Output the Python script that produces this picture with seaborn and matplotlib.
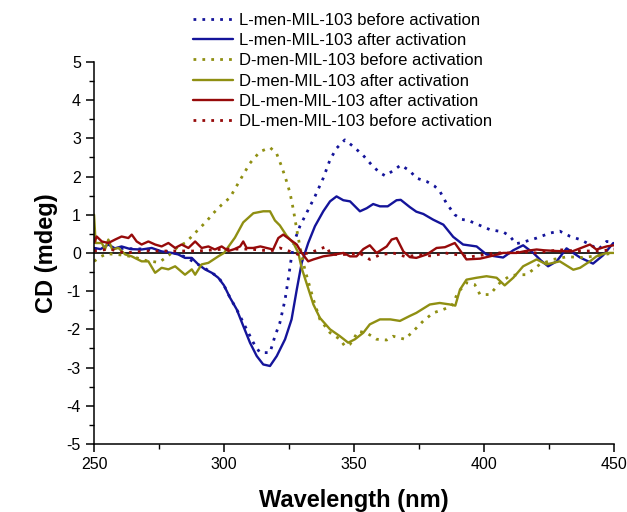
import numpy as np
import pandas as pd
import matplotlib
matplotlib.use("Agg")
import matplotlib.pyplot as plt
import seaborn as sns
from matplotlib.ticker import MultipleLocator

# CD spectra (wavelength in nm, CD in mdeg)
l_before_wl = [250, 260, 270, 280, 285, 290, 295, 298, 300, 302.3, 304.9, 308.7, 311.3, 313.8, 317.7,
               319.6, 321.5, 323.5, 324.7, 326, 327.3, 329.2, 332.4, 335, 338.2, 340.8, 343.3, 346.5,
               349.7, 353.6, 357.4, 360, 362, 365, 368, 371.5, 374, 378, 381, 383, 385.6, 388.8, 391.4,
               394, 398.5, 402.3, 407.4, 410, 412.3, 415, 420.3, 425.4, 429.2, 433, 437, 440.8, 444,
               447.2, 450]
l_before_cd = [0.1, 0.12, 0.1, 0.02, -0.1, -0.3, -0.5, -0.65, -0.85, -1.17, -1.48, -2.0, -2.35, -2.61, -2.61,
               -2.18, -1.83, -1.22, -0.7, -0.09, 0.35, 0.7, 1.13, 1.48, 1.96, 2.44, 2.74, 2.96,
               2.79, 2.55, 2.26, 2.1, 2.02, 2.15, 2.3, 2.15, 1.96, 1.87, 1.75, 1.62, 1.3, 1.0, 0.88,
               0.85, 0.72, 0.61, 0.55, 0.44, 0.24, 0.28, 0.39, 0.52, 0.57, 0.44, 0.35, 0.22, 0.09,
               0.3, 0.28]

l_after_wl = [250, 252.5, 255.5, 258, 260.6, 264, 268.3, 272.2, 276, 279.9, 282.4, 285, 287.6, 290.1,
              292.7, 295.3, 297.8, 300, 302.3, 304.9, 307.4, 310, 312.6, 315.1, 317.7, 320.3, 323.5,
              326, 328, 329.9, 332.4, 335, 338.2, 340.8, 343.3, 345.9, 348.5, 352.3, 354.9, 357.4,
              360, 363, 366.4, 368, 371.5, 374, 376.7, 380.5, 384.4, 388.2, 392, 397.2, 401, 403.6,
              407.4, 411.3, 415.1, 419, 422, 424.7, 428, 431.8, 437, 442, 445.9, 449.8]
l_after_cd = [0.13, 0.1, 0.22, 0.12, 0.17, 0.1, 0.09, 0.13, 0.04, 0.0, -0.04, -0.13, -0.13, -0.3,
              -0.43, -0.52, -0.65, -0.85, -1.17, -1.48, -1.91, -2.35, -2.7, -2.92, -2.96, -2.7, -2.26,
              -1.74, -0.96, -0.26, 0.26, 0.7, 1.09, 1.35, 1.48, 1.38, 1.35, 1.09, 1.17, 1.28,
              1.22, 1.22, 1.38, 1.39, 1.2, 1.08, 1.02, 0.87, 0.74, 0.42, 0.22, 0.17, -0.04, -0.08,
              -0.12, 0.07, 0.2, 0.0, -0.2, -0.35, -0.22, 0.12, -0.12, -0.28, -0.06, 0.26]

d_before_wl = [250, 252.5, 255, 260, 265, 270, 275, 279, 282.4, 285, 287.6, 290.1, 293.3, 295.9, 299.1,
               302.3, 306.2, 310, 313.8, 317.7, 320.2, 322.2, 324.1, 325.4, 326.7, 328, 329.2, 331.1,
               334.4, 336.9, 340.8, 344.6, 346.5, 348.5, 351.7, 355, 358.7, 362.6, 365, 369.6, 372.8,
               376.7, 380.5, 384.4, 387.6, 390, 393.3, 396.5, 398.5, 402.3, 406.2, 410, 413, 416.4,
               421.5, 426.7, 432, 438, 443, 450]
d_before_cd = [-0.22, -0.1, -0.02, -0.05, -0.1, -0.2, -0.25, -0.05, 0.17, 0.26, 0.43, 0.61, 0.83, 1.04, 1.26,
               1.45, 1.91, 2.35, 2.65, 2.76, 2.61, 2.26, 1.87, 1.57, 1.13, 0.61, 0.17, -0.43,
               -1.22, -1.74, -2.09, -2.26, -2.44, -2.39, -2.05, -2.1, -2.26, -2.28, -2.18, -2.26, -2.05,
               -1.78, -1.57, -1.48, -1.39, -1.04, -0.78, -0.83, -1.09, -1.09, -0.78, -0.6, -0.57, -0.57,
               -0.3, -0.17, -0.1, -0.12, -0.08, 0.0]

d_after_wl = [250, 250.6, 253, 254.2, 255.5, 257, 259.4, 262, 264.5, 268.3, 270.9, 273.5, 276, 278.6,
              281.2, 285, 287.6, 288.9, 291.4, 294, 297.8, 300, 302.3, 304.2, 307.4, 311.3, 315.1,
              317.7, 319.6, 321.5, 324.1, 326.7, 328.6, 329.9, 331.8, 334.4, 336.9, 340.8, 344.6,
              347.8, 350.4, 353.6, 356.1, 360, 364, 367.7, 371.5, 374, 379.2, 383, 387, 389, 390.8,
              393.3, 397.2, 401, 404.9, 408, 411.3, 415.1, 420.3, 424.1, 429.2, 434.4, 437, 440.8,
              443.3, 447.2, 450]
d_after_cd = [1.0, 0.26, 0.26, 0.09, 0.35, 0.09, 0.13, -0.04, -0.09, -0.22, -0.22, -0.52, -0.39, -0.43,
              -0.35, -0.57, -0.43, -0.57, -0.3, -0.26, -0.09, 0.0, 0.22, 0.4, 0.8, 1.04, 1.09,
              1.09, 0.85, 0.72, 0.45, 0.26, 0.0, -0.4, -0.8, -1.35, -1.7, -2.0, -2.18,
              -2.35, -2.26, -2.09, -1.87, -1.74, -1.74, -1.78, -1.65, -1.57, -1.35, -1.31, -1.35, -1.38, -0.96,
              -0.7, -0.65, -0.61, -0.65, -0.85, -0.65, -0.35, -0.17, -0.3, -0.22, -0.44, -0.39, -0.22,
              -0.09, 0.0, 0.0]

dl_after_wl = [250, 251, 253, 255.5, 258.1, 260.6, 263.2, 264.5, 266.4, 268.3, 270.9, 273.5, 276, 278.6,
               281.2, 283.7, 286.3, 288.9, 291.4, 294, 296.5, 299.1, 301.7, 304, 306.2, 307.4, 308.7,
               311.3, 314, 316.4, 318.9, 320.9, 322.8, 325.4, 328, 329.9, 332.4, 334.4, 338.2, 342,
               346, 348.5, 351, 353.6, 356.1, 358.7, 362.6, 364.5, 366.4, 369, 371.5, 374, 378, 381.8,
               385, 388.8, 391, 393.3, 398.5, 402.3, 407.4, 412.6, 416, 420.3, 423, 428, 434, 440.8,
               443.3, 447.2, 450]
dl_after_cd = [0.26, 0.43, 0.3, 0.26, 0.35, 0.43, 0.39, 0.48, 0.3, 0.22, 0.3, 0.22, 0.17, 0.26,
               0.13, 0.22, 0.13, 0.3, 0.13, 0.17, 0.09, 0.17, 0.05, 0.1, 0.17, 0.3, 0.13,
               0.13, 0.17, 0.13, 0.09, 0.39, 0.48, 0.35, 0.22, 0.0, -0.22, -0.17, -0.09, -0.05,
               0.0, -0.09, -0.09, 0.1, 0.2, 0.0, 0.17, 0.35, 0.39, 0.04, -0.11, -0.13, -0.04, 0.13,
               0.15, 0.26, 0.05, -0.17, -0.15, -0.09, 0.0, 0.0, 0.05, 0.09, 0.07, 0.05, 0.04, 0.22,
               0.09, 0.17, 0.2]

dl_before_wl = [250, 256, 262, 270, 280, 290, 300, 310, 318, 321.5, 325, 328.6, 333, 339.5, 341, 347,
                352, 356.1, 360, 365, 370, 375, 380, 385, 390, 395, 400, 405, 410, 415, 420, 425,
                430, 435, 440, 445, 450]
dl_before_cd = [0.05, 0.1, 0.0, 0.05, 0.05, 0.05, 0.1, 0.1, 0.05, 0.13, 0.05, -0.04, 0.0, 0.17, -0.04, -0.04,
                0.0, -0.17, -0.05, 0.0, -0.1, -0.05, -0.08, 0.0, -0.05, -0.1, -0.05, 0.0, 0.0, 0.03, 0.0, 0.05,
                0.08, 0.05, 0.05, 0.05, 0.1]

blue = "#14149a"
olive = "#8f8f12"
red = "#960a0a"
dotted = (0, (1, 2.2))

series = [
    ("L-men-MIL-103 before activation", l_before_wl, l_before_cd, blue, dotted),
    ("L-men-MIL-103 after activation", l_after_wl, l_after_cd, blue, "-"),
    ("D-men-MIL-103 before activation", d_before_wl, d_before_cd, olive, dotted),
    ("D-men-MIL-103 after activation", d_after_wl, d_after_cd, olive, "-"),
    ("DL-men-MIL-103 after activation", dl_after_wl, dl_after_cd, red, "-"),
    ("DL-men-MIL-103 before activation", dl_before_wl, dl_before_cd, red, dotted),
]

sns.set_theme(style="ticks")
plt.rcParams['font.family'] = ['Liberation Sans', 'DejaVu Sans']
plt.rcParams['axes.unicode_minus'] = False
plt.rcParams['text.color'] = 'black'
plt.rcParams['axes.labelcolor'] = 'black'

fig = plt.figure(figsize=(6.27, 5.12), dpi=100)
ax = fig.add_axes([0.150, 0.133, 0.829, 0.746])

ax.axhline(0, color="black", lw=1.2, zorder=1)

for name, wl, cd, col, ls in series:
    df = pd.DataFrame({"wl": wl, "cd": cd})
    lw = 2.0 if ls is dotted else 1.7
    sns.lineplot(data=df, x="wl", y="cd", ax=ax, color=col, linestyle=ls, lw=lw,
                 label=name, sort=True, estimator=None, zorder=2)

ax.set_xlim(250, 450)
ax.set_ylim(-5, 5)
ax.xaxis.set_major_locator(MultipleLocator(50))
ax.xaxis.set_minor_locator(MultipleLocator(25))
ax.yaxis.set_major_locator(MultipleLocator(1))
ax.yaxis.set_minor_locator(MultipleLocator(0.5))
ax.tick_params(which="major", direction="out", length=6, width=1.1, labelsize=11.5,
               color="black", labelcolor="black")
ax.tick_params(which="minor", direction="out", length=3.5, width=1.0, color="black")
for side in ["top", "right"]:
    ax.spines[side].set_visible(False)
for side in ["left", "bottom"]:
    ax.spines[side].set_color("black")
    ax.spines[side].set_linewidth(1.1)

ax.set_xlabel("Wavelength (nm)", fontsize=17, fontweight="bold", labelpad=12, color="black")
ax.set_ylabel("CD (mdeg)", fontsize=17, fontweight="bold", labelpad=6, color="black")

leg = ax.legend(loc="upper left", bbox_to_anchor=(0.302, 0.982), bbox_transform=fig.transFigure,
                frameon=False, fontsize=12, handlelength=2.4, handletextpad=0.4,
                labelspacing=0.32, borderpad=0.2, borderaxespad=0)
for t in leg.get_texts():
    t.set_color("black")

fig.savefig("out.png", dpi=100)
